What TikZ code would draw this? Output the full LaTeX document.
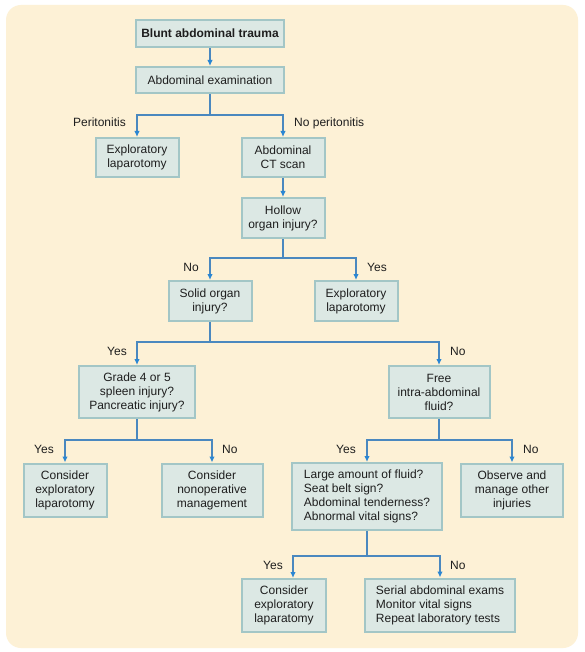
\documentclass[tikz,border=0pt]{standalone}
\usepackage{fontspec}
\setmainfont{Liberation Sans}
\usetikzlibrary{arrows.meta}
\definecolor{bgc}{HTML}{FDF1D6}
\definecolor{boxfill}{HTML}{DCE8E4}
\definecolor{boxedge}{HTML}{A3C6C6}
\definecolor{linec}{HTML}{4A88BF}
\definecolor{arrc}{HTML}{2A86D3}
\definecolor{txt}{HTML}{1E1E1E}
\begin{document}
\begin{tikzpicture}[x=1pt,y=-1pt,
  box/.style={draw=boxedge, fill=boxfill, line width=2pt, inner sep=0pt,
    align=center, font=\fontsize{12}{14}\selectfont, text=txt},
  lab/.style={font=\fontsize{12}{14}\selectfont, inner sep=0pt, text=txt},
  stem/.style={draw=linec, line width=2pt},
  arr/.style={draw=linec, line width=2pt, line join=miter,
    -{Latex[length=6pt,width=5.5pt,color=arrc]}}]
\useasboundingbox (0,0) rectangle (584,652);
\fill[white] (0,0) rectangle (584,652);
\fill[bgc, rounded corners=15pt] (6,5) rectangle (578,648);

% boxes
\node[box, minimum width=148, minimum height=27, font=\fontsize{12}{14}\selectfont\bfseries] (top) at (210,33.5) {Blunt abdominal trauma};
\node[box, minimum width=148, minimum height=26] (exam) at (210,80) {Abdominal examination};
\node[box, minimum width=83, minimum height=39] (expl1) at (137,157.5) {Exploratory\\laparotomy};
\node[box, minimum width=83, minimum height=39] (ct) at (283,157.5) {Abdominal\\CT scan};
\node[box, minimum width=83, minimum height=40] (hollow) at (283,218) {Hollow\\organ injury?};
\node[box, minimum width=83, minimum height=40] (solid) at (210,301) {Solid organ\\injury?};
\node[box, minimum width=83, minimum height=40] (expl2) at (356,301) {Exploratory\\laparotomy};
\node[box, minimum width=116, minimum height=52] (grade) at (137,392) {Grade 4 or 5\\spleen injury?\\Pancreatic injury?};
\node[box, minimum width=101, minimum height=52] (free) at (439,392) {Free\\intra-abdominal\\fluid?};
\node[box, minimum width=83, minimum height=53] (consL) at (65,490) {Consider\\exploratory\\laparotomy};
\node[box, minimum width=101, minimum height=53] (nonop) at (212,490) {Consider\\nonoperative\\management};
\node[box, minimum width=150, minimum height=67, align=left] (large) at (367,496.5) {Large amount of fluid?\\Seat belt sign?\\Abdominal tenderness?\\Abnormal vital signs?};
\node[box, minimum width=102, minimum height=53] (observe) at (512,490) {Observe and\\manage other\\injuries};
\node[box, minimum width=84, minimum height=53] (consB) at (284,605) {Consider\\exploratory\\laparatomy};
\node[box, minimum width=150, minimum height=53, align=left] (serial) at (440,605) {Serial abdominal exams\\Monitor vital signs\\Repeat laboratory tests};

% junctions
\coordinate (j1) at (210,115);
\coordinate (j2) at (283,258);
\coordinate (j3) at (210,342);
\coordinate (j4) at (137,440);
\coordinate (j5) at (439,440);
\coordinate (j6) at (367,556);
\coordinate (t6) at (293,578);

% connectors
\draw[arr] (top) -- (exam);
\draw[stem] (exam.south) -- (j1);
\draw[arr] (j1) -| (expl1.north);
\draw[arr] (j1) -| (ct.north);
\draw[arr] (ct) -- (hollow);
\draw[stem] (hollow.south) -- (j2);
\draw[arr] (j2) -| (solid.north);
\draw[arr] (j2) -| (expl2.north);
\draw[stem] (solid.south) -- (j3);
\draw[arr] (j3) -| (grade.north);
\draw[arr] (j3) -| (free.north);
\draw[stem] (grade.south) -- (j4);
\draw[arr] (j4) -| (consL.north);
\draw[arr] (j4) -| (nonop.north);
\draw[stem] (free.south) -- (j5);
\draw[arr] (j5) -| (large.north);
\draw[arr] (j5) -| (observe.north);
\draw[stem] (large.south) -- (j6);
\draw[arr] (j6) -| (t6);
\draw[arr] (j6) -| (serial.north);

% labels
\node[lab, anchor=base east] (l1a) at (126,127) {Peritonitis};
\node[lab, anchor=base west] (l1b) at (294,127) {No peritonitis};
\node[lab, anchor=base east] (l2a) at (199,271) {No};
\node[lab, anchor=base west] (l2b) at (367,271) {Yes};
\node[lab, anchor=base east] (l3a) at (127,355) {Yes};
\node[lab, anchor=base west] (l3b) at (450,355) {No};
\node[lab, anchor=base east] (l4a) at (54,453) {Yes};
\node[lab, anchor=base west] (l4b) at (222,453) {No};
\node[lab, anchor=base east] (l5a) at (356,453) {Yes};
\node[lab, anchor=base west] (l5b) at (523,453) {No};
\node[lab, anchor=base east] (l6a) at (283,569) {Yes};
\node[lab, anchor=base west] (l6b) at (450,569) {No};
\end{tikzpicture}
\end{document}
